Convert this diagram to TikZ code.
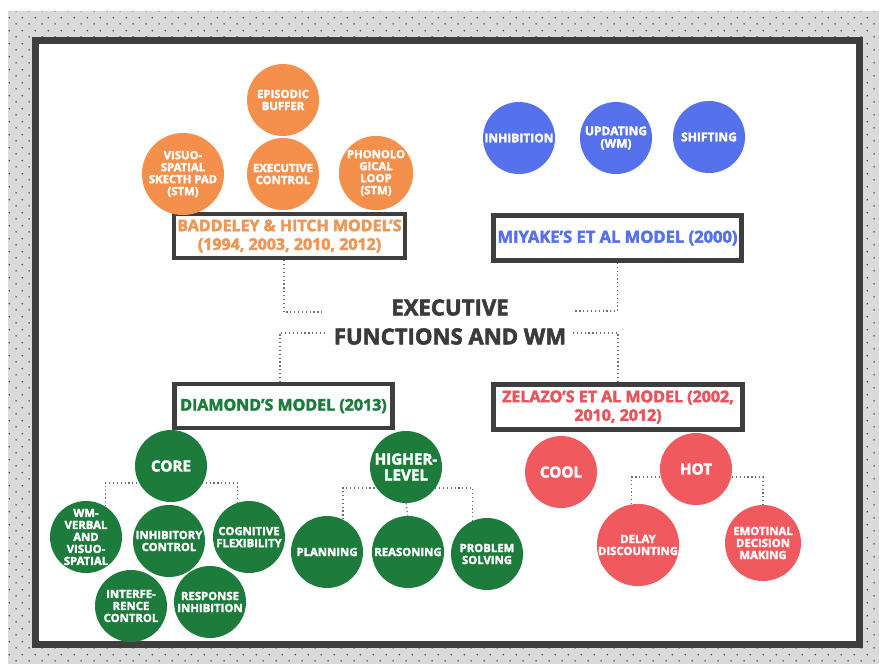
\documentclass[tikz,border=0pt]{standalone}
\usepackage{fontspec}
\setmainfont{Open Sans}[BoldFeatures={FakeBold=2.5}]
\usetikzlibrary{patterns}
\definecolor{orangeC}{HTML}{F4904B}
\definecolor{orangeT}{HTML}{EE9656}
\definecolor{blueC}{HTML}{5571EB}
\definecolor{greenC}{HTML}{1D7B3C}
\definecolor{redC}{HTML}{F05A5E}
\definecolor{redT}{HTML}{E9545C}
\definecolor{frameC}{HTML}{3E3E3E}
\definecolor{bandC}{HTML}{DADADA}
\definecolor{dotC}{HTML}{555555}
\definecolor{titleC}{HTML}{3A3A3A}
\definecolor{connC}{HTML}{6E6E6E}
\newcommand{\apos}{{\char"0027}}
% staggered dot grid for the border band
\pgfdeclarepatternformonly{stagdots}{\pgfpointorigin}{\pgfpoint{9.525pt}{9.525pt}}{\pgfpoint{9.525pt}{9.525pt}}{
  \pgfpathcircle{\pgfpoint{2.38pt}{2.38pt}}{0.7pt}
  \pgfpathcircle{\pgfpoint{7.14pt}{7.14pt}}{0.7pt}
  \pgfusepath{fill}
}
\tikzset{
  bubble/.style={circle, minimum size=54pt, inner sep=0pt, align=center,
    text=white, font=\bfseries\fontsize{8.5}{9}\selectfont},
  bigbubble/.style={bubble, minimum size=57pt},
  headtext/.style={font=\bfseries\fontsize{11.4}{12}\selectfont},
  midtext/.style={font=\bfseries\fontsize{9}{9.3}\selectfont},
  modelbox/.style={draw=frameC, line width=3.4pt, fill=white, inner sep=0pt,
    align=center, font=\bfseries\fontsize{12}{14}\selectfont},
  conn/.style={draw=connC, line width=0.9pt, dotted},
}
\begin{document}
\begin{tikzpicture}[x=0.75pt, y=-0.75pt]
\useasboundingbox (0,0) rectangle (879,664);
% dotted band around the frame
\fill[bandC] (8,11) rectangle (879,664);
\fill[pattern=stagdots, pattern color=dotC] (8,11) rectangle (879,664);
% frame
\draw[line width=4.9pt, frameC, fill=white] (35.25,40.25) rectangle (859.75,644.75);

% title
\node[font=\bfseries\fontsize{16.6}{21.75}\selectfont, text=titleC, align=center]
  (title) at (450,322) {EXECUTIVE\\FUNCTIONS AND WM};

% model boxes
\node[modelbox, text=orangeT, minimum width=173pt, minimum height=33pt] (bh) at (289.5,236)
  {BADDELEY \& HITCH MODEL\apos S\\(1994, 2003, 2010, 2012)};
\node[modelbox, text=blueC, minimum width=186pt, minimum height=34pt,
  font=\bfseries\fontsize{12.4}{14}\selectfont] (mi) at (617.5,238)
  {MIYAKE\apos S ET AL MODEL (2000)};
\node[modelbox, text=greenC, minimum width=163.5pt, minimum height=33pt] (dm) at (283.5,406)
  {DIAMOND\apos S MODEL (2013)};
\node[modelbox, text=redT, minimum width=187pt, minimum height=34pt] (ze) at (618,407)
  {ZELAZO\apos S ET AL MODEL (2002,\\2010, 2012)};

% links between the title and the models
\coordinate (j1) at (284,312);
\coordinate (e1) at (323,312);
\draw[conn] (bh.south -| j1) -- (j1) -- (e1);
\coordinate (e2) at (575,311);
\draw[conn] (mi.south) |- (e2);
\coordinate (j3) at (280,333);
\coordinate (e3) at (325,333);
\draw[conn] (e3) -- (j3) -- (dm.north -| j3);
\coordinate (e4) at (573,333);
\draw[conn] (e4) -| (ze.north);

% Baddeley & Hitch
\node[bubble, fill=orangeC] (eb) at (283,100) {EPISODIC\\BUFFER};
\node[bubble, fill=orangeC] (vs) at (183,174) {VISUO-\\SPATIAL\\SKECTH PAD\\(STM)};
\node[bubble, fill=orangeC] (ec) at (283,174) {EXECUTIVE\\CONTROL};
\node[bubble, fill=orangeC] (pl) at (376,173) {PHONOLO\\GICAL\\LOOP\\(STM)};

% Miyake
\node[bubble, midtext, fill=blueC] (inh) at (519,138) {INHIBITION};
\node[bubble, midtext, fill=blueC] (upd) at (616,138) {UPDATING\\(WM)};
\node[bubble, midtext, fill=blueC] (shi) at (709,137) {SHIFTING};

% Diamond: core functions
\node[bubble, fill=greenC] (wm) at (86,537) {WM-\\VERBAL\\AND\\VISUO-\\SPATIAL};
\node[bubble, fill=greenC] (cf) at (249,537) {COGNITIVE\\FLEXIBILITY};
\draw[conn] (wm.58) |- (171,483) -| (cf.109);
\node[bubble, headtext, fill=greenC] (core) at (171,466) {CORE};
\node[bubble, fill=greenC] (ic) at (169,541) {INHIBITORY\\CONTROL};
\node[bubble, fill=greenC] (itc) at (131,606) {INTERFE-\\RENCE\\CONTROL};
\node[bubble, fill=greenC] (ri) at (210,602) {RESPONSE\\INHIBITION};

% Diamond: higher-level functions
\node[bubble, fill=greenC] (pla) at (327,552) {PLANNING};
\node[bubble, fill=greenC] (rea) at (408,552) {REASONING};
\node[bubble, fill=greenC] (ps) at (487,554) {PROBLEM\\SOLVING};
\draw[conn] (pla.64) |- (406,488) -| (ps.113);
\node[bubble, headtext, fill=greenC] (hl) at (406,467) {HIGHER-\\LEVEL};
\draw[conn] (hl.south) -- (rea.north);

% Zelazo
\node[bubble, headtext, fill=redC] (cool) at (561,472) {COOL};
\node[bigbubble, fill=redC] (dd) at (638,545) {DELAY\\DISCOUNTING};
\node[bigbubble, fill=redC] (edm) at (763,543) {EMOTINAL\\DECISION\\MAKING};
\draw[conn] (dd.99) |- (696,477) -| (edm.north);
\node[bubble, headtext, fill=redC] (hot) at (696,469) {HOT};
\end{tikzpicture}
\end{document}
